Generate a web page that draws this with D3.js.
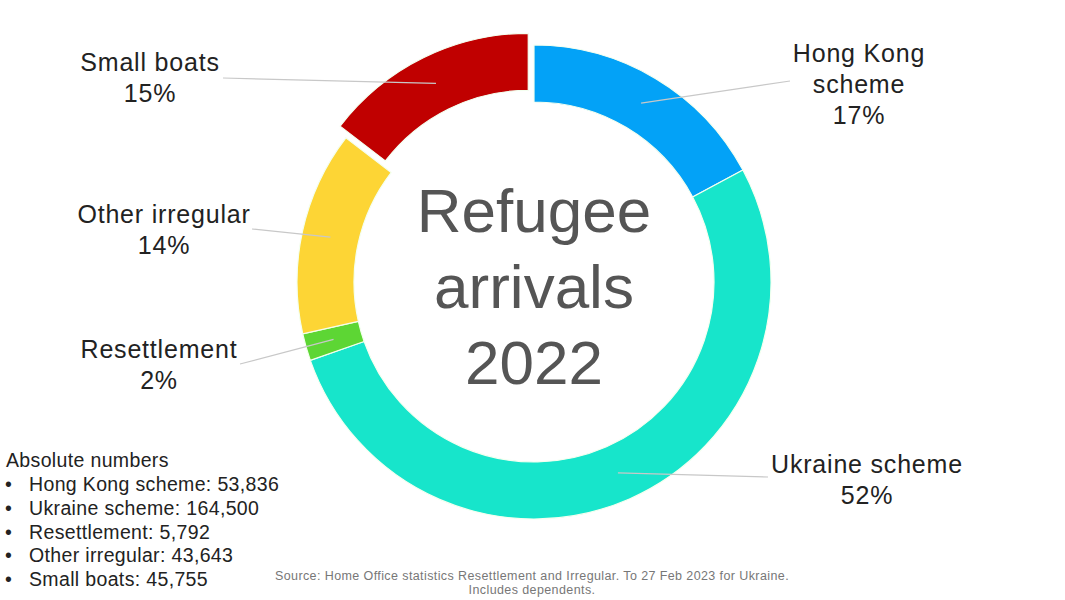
<!DOCTYPE html>
<html>
<head>
<meta charset="utf-8">
<script src="https://cdn.jsdelivr.net/npm/d3@7"></script>
<style>
  html, body { margin: 0; padding: 0; background: #fff; }
  svg { display: block; font-family: "Liberation Sans", Arial, Helvetica, sans-serif; }
</style>
</head>
<body>
<svg id="chart" width="1065" height="600"></svg>
<script>
// ---- data ----
const categories = ["Hong Kong scheme", "Ukraine scheme", "Resettlement", "Other irregular", "Small boats"];
const values = [53836, 164500, 5792, 43643, 45755];
const labelLines = [["Hong Kong", "scheme"], ["Ukraine scheme"], ["Resettlement"], ["Other irregular"], ["Small boats"]];
const colors = ["#03A2F7", "#17E5CB", "#5DD634", "#FDD535", "#C00000"];
const exploded = [false, false, false, false, true];
const titleLines = ["Refugee", "arrivals", "2022"];
const legendTitle = "Absolute numbers";
const sourceLines = [
  "Source: Home Office statistics Resettlement and Irregular. To 27 Feb 2023 for Ukraine.",
  "Includes dependents."
];

// ---- layout (label anchors: x centre, first baseline; leader end) ----
const labelLayout = [
  { x: 859, y: 62, lx: 790, ly: 81 },
  { x: 867, y: 473, lx: 768, ly: 477 },
  { x: 159, y: 358, lx: 240, ly: 364 },
  { x: 164, y: 223, lx: 252, ly: 229 },
  { x: 150, y: 71, lx: 223, ly: 78 }
];

const svg = d3.select("#chart");
const cx = 534, cy = 282;
const outerR = 237, innerR = 180, explodeDist = 13;

const total = d3.sum(values);
const data = categories.map((c, i) => ({ name: c, value: values[i], i }));
const pie = d3.pie().value(d => d.value).sort(null);
const arcs = pie(data);
const arc = d3.arc().innerRadius(innerR).outerRadius(outerR);

const g = svg.append("g").attr("transform", `translate(${cx},${cy})`);

function offset(a) {
  if (!exploded[a.data.i]) return [0, 0];
  const m = (a.startAngle + a.endAngle) / 2;
  return [Math.sin(m) * explodeDist, -Math.cos(m) * explodeDist];
}

g.selectAll("path.slice").data(arcs).join("path")
  .attr("class", "slice")
  .attr("d", arc)
  .attr("transform", d => `translate(${offset(d)})`)
  .attr("fill", d => colors[d.data.i])
  .attr("stroke", "#f4fff0")
  .attr("stroke-width", 1.2);

// leader lines
g.selectAll("line.leader").data(arcs).join("line")
  .attr("class", "leader")
  .attr("x1", d => arc.centroid(d)[0] + offset(d)[0])
  .attr("y1", d => arc.centroid(d)[1] + offset(d)[1])
  .attr("x2", d => labelLayout[d.data.i].lx - cx)
  .attr("y2", d => labelLayout[d.data.i].ly - cy)
  .attr("stroke", "#c8c8c8")
  .attr("stroke-width", 1.2);

// labels
const fmtPct = v => Math.round(v / total * 100) + "%";
arcs.forEach(d => {
  const L = labelLayout[d.data.i];
  const lines = labelLines[d.data.i].concat([fmtPct(d.data.value)]);
  const t = svg.append("text")
    .attr("text-anchor", "middle")
    .attr("font-size", 25)
    .attr("letter-spacing", 0.8)
    .attr("fill", "#222");
  lines.forEach((ln, k) => {
    t.append("tspan").attr("x", L.x).attr("y", L.y + k * 31).text(ln);
  });
});

// centre title
const tt = svg.append("text")
  .attr("text-anchor", "middle")
  .attr("font-size", 62)
  .attr("fill", "#555");
titleLines.forEach((ln, k) => {
  tt.append("tspan").attr("x", cx).attr("y", 232 + k * 76).text(ln);
});

// legend of absolute numbers
const fmt = d3.format(",");
svg.append("text").attr("x", 6).attr("y", 467)
  .attr("font-size", 19.5).attr("letter-spacing", 0.35).attr("fill", "#222").text(legendTitle);
categories.forEach((c, i) => {
  const y = 491 + i * 23.8;
  svg.append("text").attr("x", 5).attr("y", y)
    .attr("font-size", 19.5).attr("fill", "#222").text("•");
  svg.append("text").attr("x", 29).attr("y", y)
    .attr("font-size", 19.5).attr("letter-spacing", 0.35).attr("fill", "#222")
    .text(`${c}: ${fmt(values[i])}`);
});

// source
const st = svg.append("text").attr("text-anchor", "middle")
  .attr("font-size", 12.5).attr("letter-spacing", 0.4).attr("fill", "#777");
sourceLines.forEach((ln, k) => {
  st.append("tspan").attr("x", 532).attr("y", 580 + k * 14).text(ln);
});
</script>
</body>
</html>
